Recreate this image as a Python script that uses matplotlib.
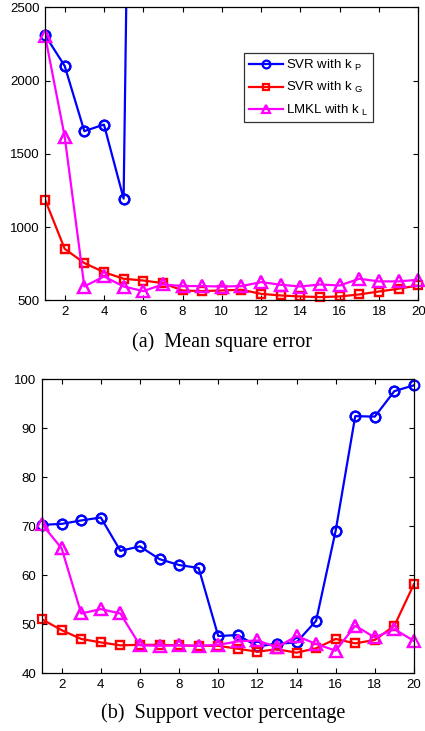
import matplotlib
matplotlib.use('Agg')
import matplotlib.pyplot as plt
import numpy as np

plt.rcParams['font.family'] = ['Liberation Sans', 'DejaVu Sans']
plt.rcParams['mathtext.fontset'] = 'custom'
plt.rcParams['mathtext.rm'] = 'Liberation Sans'
plt.rcParams['mathtext.it'] = 'Liberation Sans'

X = np.arange(1, 21)

# (a) mean square error
mse_svr_p = [2310, 2100, 1655, 1700, 1195, 11000, 12000, 12500, 13000, 13500,
             14000, 14500, 15000, 15500, 16000, 16500, 17000, 17500, 18000, 18500]
mse_svr_g = [1188, 852, 755, 693, 648, 636, 618, 568, 564, 568,
             573, 545, 534, 527, 523, 527, 541, 561, 580, 602]
mse_lmkl = [2307, 1618, 595, 664, 595, 564, 609, 598, 598, 595,
            598, 625, 607, 595, 609, 602, 648, 630, 630, 641]

# (b) support vector percentage
sv_svr_p = [70.3, 70.5, 71.2, 71.8, 65.0, 65.9, 63.3, 62.1, 61.5, 47.6,
            47.8, 45.5, 46.0, 46.3, 50.7, 69.1, 92.5, 92.4, 97.6, 98.8]
sv_svr_g = [51.0, 48.8, 47.0, 46.3, 45.7, 45.8, 45.8, 45.7, 45.6, 45.6,
            45.0, 44.4, 44.9, 44.2, 45.1, 47.0, 46.1, 46.8, 49.7, 58.2]
sv_lmkl = [70.4, 65.5, 52.2, 53.1, 52.2, 45.7, 45.6, 45.7, 45.6, 45.8,
           46.5, 46.7, 45.3, 47.6, 46.0, 44.6, 49.7, 47.3, 49.0, 46.6]

LABELS = [r'SVR with k $_{\mathrm{P}}$', r'SVR with k $_{\mathrm{G}}$', r'LMKL with k $_{\mathrm{L}}$']
STYLES = [('#0000ff', 'o', 7), ('#ff0000', 's', 6), ('#ff00ff', '^', 8)]


def draw(ax, series, ylim, yticks):
    for values, label, (color, marker, ms) in zip(series, LABELS, STYLES):
        values = np.array(values, dtype=float)
        ax.plot(X, values, color=color, lw=1.6, marker=marker, ms=ms,
                mfc='none', mec=color, mew=1.6, label=label)
        # markers at the edges are not clipped (MATLAB look)
        inside = np.where((values >= ylim[0]) & (values <= ylim[1]), values, np.nan)
        ax.plot(X, inside, ls='none', marker=marker, ms=ms, mfc='none',
                mec=color, mew=1.6, clip_on=False)
    ax.set_xlim(1, 20)
    ax.set_ylim(*ylim)
    ax.set_xticks(np.arange(2, 21, 2))
    ax.set_yticks(yticks)
    ax.tick_params(direction='in', top=True, right=True, length=3.5,
                   labelsize=9.5, pad=4)
    for s in ax.spines.values():
        s.set_linewidth(0.9)


fig = plt.figure(figsize=(4.25, 7.31), dpi=100)
ax1 = fig.add_axes([0.106, 0.589, 0.878, 0.401])
ax2 = fig.add_axes([0.099, 0.079, 0.875, 0.402])

draw(ax1, [mse_svr_p, mse_svr_g, mse_lmkl], (500, 2500), np.arange(500, 2501, 500))
draw(ax2, [sv_svr_p, sv_svr_g, sv_lmkl], (40, 100), np.arange(40, 101, 10))

handles, labels = ax1.get_legend_handles_labels()
leg = ax1.legend(handles, labels, loc='upper left', bbox_to_anchor=(0.534, 0.843),
                 fontsize=9.5, frameon=True, fancybox=False, edgecolor='black',
                 handlelength=2.6, handletextpad=0.2, borderpad=0.35,
                 labelspacing=0.55, markerscale=0.8, borderaxespad=0)
leg.get_frame().set_linewidth(0.9)

fig.text(0.522, 1 - 342 / 731, '(a)  Mean square error', ha='center', va='center',
         family='Liberation Serif', fontsize=14.5)
fig.text(0.525, 1 - 713 / 731, '(b)  Support vector percentage', ha='center', va='center',
         family='Liberation Serif', fontsize=14.5)

fig.savefig('out.png', dpi=100)
